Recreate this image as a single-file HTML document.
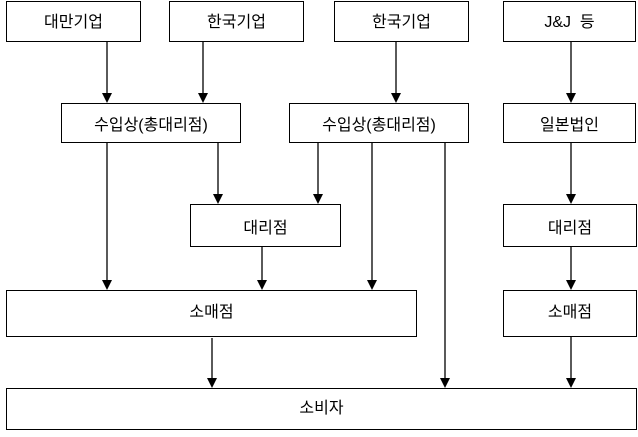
<!DOCTYPE html>
<html><head><meta charset="utf-8"><style>
html,body{margin:0;padding:0;background:#fff;}
body{width:638px;height:437px;position:relative;overflow:hidden;font-family:"Liberation Sans","Noto Sans CJK KR","NanumGothic",sans-serif;font-size:16px;color:#000;}
.b{position:absolute;box-sizing:border-box;border:1px solid #000;background:#fff;display:flex;align-items:center;justify-content:center;}
svg{position:absolute;left:0;top:0;}
</style></head><body>
<svg width="638" height="437">
<g stroke="#000" stroke-width="1.3" fill="none">
<line x1="107" y1="41" x2="107" y2="95"/>
<line x1="203" y1="41" x2="203" y2="95"/>
<line x1="396" y1="41" x2="396" y2="95"/>
<line x1="571" y1="41" x2="571" y2="95"/>
<line x1="218" y1="142" x2="218" y2="196"/>
<line x1="318" y1="142" x2="318" y2="196"/>
<line x1="571" y1="142" x2="571" y2="196"/>
<line x1="107" y1="142" x2="107" y2="282"/>
<line x1="262" y1="246" x2="262" y2="282"/>
<line x1="372" y1="142" x2="372" y2="282"/>
<line x1="571" y1="246" x2="571" y2="282"/>
<line x1="212" y1="338" x2="212" y2="380"/>
<line x1="445" y1="142" x2="445" y2="380"/>
<line x1="571" y1="336" x2="571" y2="380"/>
</g>
<g fill="#000">
<path d="M102,93 L112,93 L107,103z"/>
<path d="M198,93 L208,93 L203,103z"/>
<path d="M391,93 L401,93 L396,103z"/>
<path d="M566,93 L576,93 L571,103z"/>
<path d="M213,194 L223,194 L218,204z"/>
<path d="M313,194 L323,194 L318,204z"/>
<path d="M566,194 L576,194 L571,204z"/>
<path d="M102,280 L112,280 L107,290z"/>
<path d="M257,280 L267,280 L262,290z"/>
<path d="M367,280 L377,280 L372,290z"/>
<path d="M566,280 L576,280 L571,290z"/>
<path d="M207,378 L217,378 L212,388z"/>
<path d="M440,378 L450,378 L445,388z"/>
<path d="M566,378 L576,378 L571,388z"/>
</g>
</svg>
<div class="b" style="left:6px;top:1px;width:135px;height:41px;padding-bottom:4px">대만기업</div>
<div class="b" style="left:169px;top:1px;width:135px;height:41px;padding-bottom:4px">한국기업</div>
<div class="b" style="left:334px;top:1px;width:135px;height:41px;padding-bottom:4px">한국기업</div>
<div class="b" style="left:503px;top:1px;width:133px;height:41px;padding-bottom:4px">J&amp;J&nbsp; 등</div>
<div class="b" style="left:61px;top:103px;width:180px;height:40px">수입상(총대리점)</div>
<div class="b" style="left:289px;top:103px;width:180px;height:40px">수입상(총대리점)</div>
<div class="b" style="left:503px;top:103px;width:133px;height:40px">일본법인</div>
<div class="b" style="left:190px;top:204px;width:151px;height:43px">대리점</div>
<div class="b" style="left:503px;top:204px;width:134px;height:43px">대리점</div>
<div class="b" style="left:6px;top:290px;width:411px;height:47px;padding-bottom:8px">소매점</div>
<div class="b" style="left:503px;top:290px;width:134px;height:47px;padding-bottom:8px">소매점</div>
<div class="b" style="left:6px;top:388px;width:631px;height:42px;padding-bottom:6px">소비자</div>
</body></html>
